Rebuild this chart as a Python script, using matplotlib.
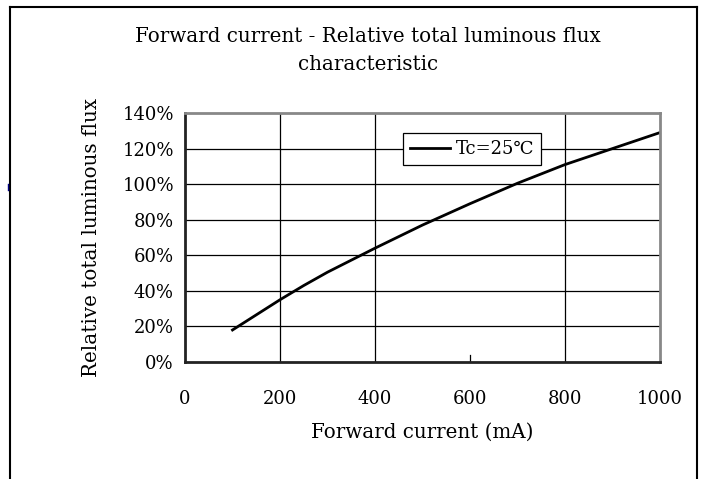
import matplotlib
matplotlib.use("Agg")
import matplotlib.pyplot as plt
from matplotlib.lines import Line2D

# data
current_ma = [100, 200, 250, 300, 400, 500, 600, 700, 800, 900, 1000]
rel_flux = [18, 35, 43, 50.5, 64, 77, 89, 100.5, 111, 120, 129]
x_ticks = [0, 200, 400, 600, 800, 1000]
y_ticks = [0, 20, 40, 60, 80, 100, 120, 140]
x_grid = [200, 400, 800]
y_grid = [20, 40, 60, 80, 100, 120]

plt.rcParams['font.family'] = ['DejaVu Serif']
fs = 13
fs_lab = 14.3

fig = plt.figure(figsize=(7.13, 4.79), dpi=100)
W, H = 713, 479

# outer frame
fig.add_artist(Line2D([10/W, 10/W], [0, 1 - 7/H], color='black', lw=1.5))
fig.add_artist(Line2D([10/W, 697/W], [1 - 7/H, 1 - 7/H], color='black', lw=1.5))
fig.add_artist(Line2D([697/W, 697/W], [0, 1 - 7/H], color='black', lw=1.5))
fig.add_artist(Line2D([8/W, 8/W], [1 - 184/H, 1 - 190/H], color='navy', lw=1))

ax = fig.add_axes([185/W, 1 - 362/H, 475/W, 249/H])
ax.plot(current_ma, rel_flux, color='black', lw=2, label='Tc=25\u2103')
ax.set_xlim(0, 1000)
ax.set_ylim(0, 140)

for gx in x_grid:
    ax.axvline(gx, color='black', lw=0.9, zorder=0)
for gy in y_grid:
    ax.axhline(gy, color='black', lw=0.9, zorder=0)
ax.plot([600, 600], [0, 4], color='black', lw=0.9)

ax.set_xticks(x_ticks)
ax.set_xticklabels([str(v) for v in x_ticks])
ax.set_yticks(y_ticks)
ax.set_yticklabels([f'{v}%' for v in y_ticks])
ax.tick_params(length=0, labelsize=fs, pad=8)
ax.tick_params(axis='x', pad=20)

for side in ['left', 'bottom']:
    ax.spines[side].set_color('#222222')
    ax.spines[side].set_linewidth(2)
for side in ['top', 'right']:
    ax.spines[side].set_color('#888888')
    ax.spines[side].set_linewidth(2)

ax.set_xlabel('Forward current (mA)', fontsize=fs_lab, labelpad=11)
ax.set_ylabel('Relative total luminous flux', fontsize=fs_lab, labelpad=15)

leg = ax.legend(loc='upper left', bbox_to_anchor=(209/475, 1 - 11/249), fontsize=fs,
                fancybox=False, edgecolor='black', framealpha=1, handlelength=2.2,
                borderpad=0.4, handletextpad=0.3)
leg.get_frame().set_linewidth(0.9)

fig.text(368/W, 1 - 36/H, 'Forward current - Relative total luminous flux',
         ha='center', va='center', fontsize=fs_lab)
fig.text(368/W, 1 - 65/H, 'characteristic', ha='center', va='center', fontsize=fs_lab)

fig.savefig('out.png', dpi=100)
